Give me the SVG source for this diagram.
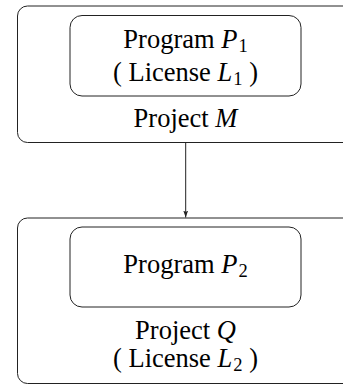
<svg xmlns="http://www.w3.org/2000/svg" width="343" height="385" viewBox="0 0 343 385">
<style>
.box{fill:none;stroke:#222;stroke-width:1}
.t{font-family:"Liberation Serif","Times New Roman",serif;font-size:26.5px;fill:#000;text-anchor:middle}
.i{font-style:italic}
.s{font-size:18.5px}
.edge{stroke:#222;stroke-width:1;fill:none}
</style>
<defs>
<marker id="ah" viewBox="0 0 10 10" refX="10" refY="5" markerWidth="7" markerHeight="7" markerUnits="userSpaceOnUse" orient="auto">
<path d="M0,1.5 L10,5 L0,8.5 L2,5 Z" fill="#222"/>
</marker>
</defs>
<g id="projectM">
<rect class="box" x="17.5" y="6" width="337" height="136.5" rx="10"/>
<text class="t" x="185.5" y="127.3">Project <tspan class="i">M</tspan></text>
</g>
<g id="programP1">
<rect class="box" x="70" y="15.5" width="231" height="80.5" rx="12"/>
<text class="t" x="185.5" y="47.7">Program <tspan class="i">P</tspan><tspan class="s" dx="1" dy="4">1</tspan></text>
<text class="t" x="185.5" y="80.7">( License <tspan class="i">L</tspan><tspan class="s" dx="1" dy="4">1</tspan><tspan dy="-4"> )</tspan></text>
</g>
<g id="projectQ">
<rect class="box" x="17.5" y="218" width="337" height="165.5" rx="10"/>
<text class="t" x="185.5" y="339">Project <tspan class="i">Q</tspan></text>
<text class="t" x="185.5" y="367">( License <tspan class="i">L</tspan><tspan class="s" dx="1" dy="4">2</tspan><tspan dy="-4"> )</tspan></text>
</g>
<g id="programP2">
<rect class="box" x="70" y="227" width="231" height="80" rx="12"/>
<text class="t" x="185.5" y="273.3">Program <tspan class="i">P</tspan><tspan class="s" dx="1" dy="4">2</tspan></text>
</g>
<g id="connectors">
<line class="edge" x1="185.7" y1="142.5" x2="185.7" y2="217.5" marker-end="url(#ah)"/>
</g>
</svg>
